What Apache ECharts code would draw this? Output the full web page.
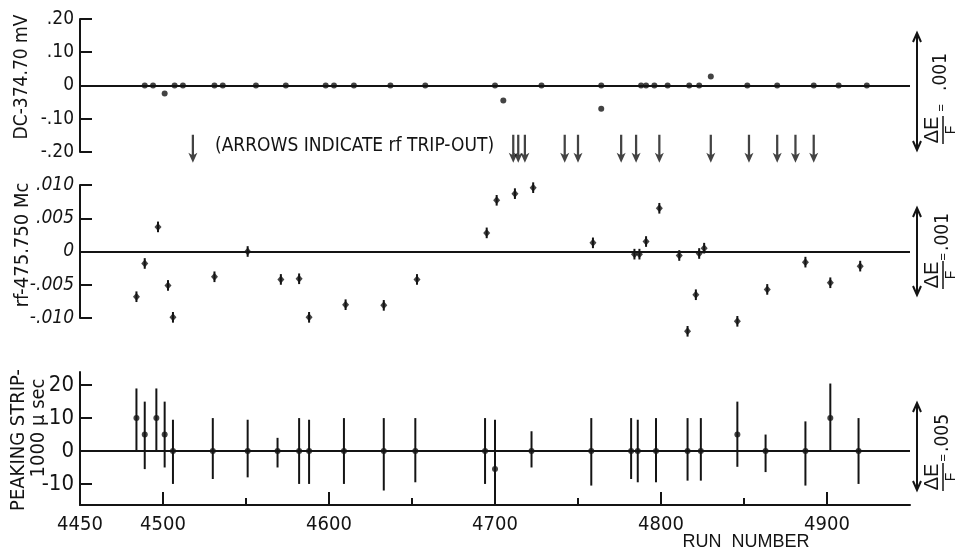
<!DOCTYPE html>
<html>
<head>
<meta charset="utf-8">
<script src="https://cdn.jsdelivr.net/npm/echarts@6/dist/echarts.min.js"></script>
<style>
html,body{margin:0;padding:0;background:#fff;}
#chart{width:964px;height:552px;}
</style>
</head>
<body>
<div id="chart"></div>
<script>
// ---------- DATA ----------
// Top panel: DC - 374.70 mV
const dcRuns = [4489,4494,4501,4507,4512,4531,4536,4556,4574,4598,4603,4615,4637,4658,4700,4705,4728,4764,4764,4788,4791,4796,4804,4817,4823,4830,4852,4870,4892,4907,4924];
const dcVals = [0,0,-0.024,0,0, 0,0,0,0,0, 0,0,0,0,0, -0.045,0,0,-0.07,0, 0,0,0,0,0, 0.027,0,0,0,0, 0];
// rf trip-out arrows (run numbers)
const tripRuns = [4518,4711,4714,4718,4742,4750,4776,4785,4799,4830,4853,4870,4881,4892];
// Middle panel: rf - 475.750 Mc
const rfRuns = [4484,4489,4497,4503,4506,4531,4551,4571,4582,4588,4610,4633,4653,4695,4701,4712,4723,4759,4784,4787,4791,4799,4811,4816,4821,4823,4826,4846,4864,4887,4902,4920];
const rfVals = [-0.0068,-0.0018,0.0037,-0.0051,-0.0099,-0.0038,0.0000,-0.0042,-0.0041,-0.0099,-0.0080,-0.0081,-0.0042,0.0028,0.0077,0.0087,0.0096,0.0013,-0.0004,-0.0004,0.0015,0.0065,-0.0006,-0.0120,-0.0065,-0.0003,0.0005,-0.0105,-0.0057,-0.0016,-0.0047,-0.0022];
const rfErr = 0.0008;
// Bottom panel: peaking strip - 1000 microsec
const psRuns = [4484,4489,4496,4501,4506,4530,4551,4569,4582,4588,4609,4633,4652,4694,4700,4722,4758,4782,4786,4797,4816,4824,4846,4863,4887,4902,4919];
const psVals = [10,5,10,5,0, 0,0,0,0,0, 0,0,0,0,-5.5, 0,0,0,0,0, 0,0,5,0,0, 10,0];
const psLow  = [0,-5.5,0,-5,-10, -8.5,-8,-5,-10,-10, -10,-12,-9.5,-10,-16.4, -5,-10.5,-8.5,-9.5,-9.5, -9,-9,-4.8,-6.4,-10.5, 0,-10];
const psHigh = [19,15,19,15,9.5, 10,9.5,4,10,9.5, 10,10,10,10,9.5, 6,10,10,9.5,10, 10,10,15,5,9, 20.5,10];
// Axis tick labels
const xLabelVals = [4450,4500,4600,4700,4800,4900];
const xMajorTicks = [4500,4600,4700,4800,4900];
const xMinorTicks = [4550,4650,4750,4850];
const psTickVals = [-10,0,10,20];

// ---------- STYLE ----------
const INK = '#141414';
const NARROW = "'Liberation Sans Narrow','DejaVu Sans Condensed','Liberation Sans',sans-serif";
const SANS = "'Liberation Sans','DejaVu Sans',sans-serif";
const X_MIN = 4450, X_MAX = 4950;

function fmtDec(v, d){
  if (Math.abs(v) < 1e-12) return '0';
  const s = Math.abs(v).toFixed(d).replace(/^0/, '');
  return (v < 0 ? '-' : '') + s;
}

const chart = echarts.init(document.getElementById('chart'), null, {renderer:'canvas'});

const grids = [
  {left:80, right:54, top:19, height:133},
  {left:80, right:54, top:185, height:133},
  {left:80, right:54, top:372, height:133}
];

const hiddenX = (gi) => ({
  type:'value', gridIndex:gi, min:X_MIN, max:X_MAX, interval:50,
  show:true, axisLine:{show:false}, axisTick:{show:false}, axisLabel:{show:false}, splitLine:{show:false}
});

const xAxes = [
  hiddenX(0),
  hiddenX(1),
  {
    type:'value', gridIndex:2, min:X_MIN, max:X_MAX, interval:50, position:'bottom',
    axisLine:{show:true, onZero:false, lineStyle:{color:INK, width:2}},
    axisTick:{show:true, inside:true, length:13, customValues:xMajorTicks, lineStyle:{color:INK, width:2}},
    axisLabel:{show:true, customValues:xLabelVals, color:INK, fontFamily:NARROW, fontSize:20, margin:10,
      formatter:(v)=>String(Math.round(v))},
    splitLine:{show:false}
  },
  {
    type:'value', gridIndex:2, min:X_MIN, max:X_MAX, interval:50, position:'bottom',
    axisLine:{show:false, onZero:false},
    axisTick:{show:true, inside:true, length:7, customValues:xMinorTicks, lineStyle:{color:INK, width:2}},
    axisLabel:{show:false}, splitLine:{show:false}
  }
];

const yLabelStyle = {color:INK, fontFamily:NARROW, fontSize:19, margin:6};
const yAxes = [
  {
    type:'value', gridIndex:0, min:-0.2, max:0.2, interval:0.1,
    axisLine:{show:true, lineStyle:{color:INK, width:2}},
    axisTick:{show:true, inside:true, length:12, lineStyle:{color:INK, width:2}},
    axisLabel:Object.assign({formatter:(v)=>fmtDec(v,2)}, yLabelStyle),
    splitLine:{show:false}
  },
  {
    type:'value', gridIndex:1, min:-0.01, max:0.01, interval:0.005,
    axisLine:{show:true, lineStyle:{color:INK, width:2}},
    axisTick:{show:true, inside:true, length:12, lineStyle:{color:INK, width:2}},
    axisLabel:Object.assign({formatter:(v)=>fmtDec(v,3), fontStyle:'italic'}, yLabelStyle),
    splitLine:{show:false}
  },
  {
    type:'value', gridIndex:2, min:-16.4, max:24,
    axisLine:{show:true, lineStyle:{color:INK, width:2}},
    axisTick:{show:true, inside:true, length:12, customValues:psTickVals, lineStyle:{color:INK, width:2}},
    axisLabel:Object.assign({customValues:psTickVals, formatter:(v)=>String(Math.round(v))}, yLabelStyle, {fontSize:22}),
    splitLine:{show:false}
  }
];

const zeroLine = {
  silent:true, symbol:'none', label:{show:false},
  lineStyle:{color:INK, width:2, type:'solid'},
  data:[{yAxis:0}]
};

function errRender(params, api){
  const x = api.value(0), lo = api.value(1), hi = api.value(2);
  const p1 = api.coord([x, lo]), p2 = api.coord([x, hi]);
  return {type:'line', shape:{x1:p1[0], y1:p1[1], x2:p2[0], y2:p2[1]},
    style:{stroke:INK, lineWidth:2}};
}

const arrowPath = 'path://M4,0 L6,0 L6,20 L9,18 L5,28 L1,18 L4,20 Z';

const series = [
  // top panel
  {
    type:'scatter', xAxisIndex:0, yAxisIndex:0, symbol:'circle', symbolSize:6,
    itemStyle:{color:INK}, data:dcRuns.map((r,i)=>[r, dcVals[i]]),
    markLine:zeroLine, z:3
  },
  {
    type:'scatter', xAxisIndex:0, yAxisIndex:0, symbol:arrowPath, symbolSize:[9,28],
    itemStyle:{color:INK}, data:tripRuns.map(r=>[r, -0.19]), silent:true, z:3
  },
  // middle panel
  {
    type:'custom', xAxisIndex:1, yAxisIndex:1, renderItem:errRender, clip:false,
    encode:{x:0, y:[1,2]},
    data:rfRuns.map((r,i)=>[r, rfVals[i]-rfErr, rfVals[i]+rfErr]), z:2
  },
  {
    type:'scatter', xAxisIndex:1, yAxisIndex:1, symbol:'diamond', symbolSize:[7,8], clip:false,
    itemStyle:{color:INK}, data:rfRuns.map((r,i)=>[r, rfVals[i]]),
    markLine:zeroLine, z:3
  },
  // bottom panel
  {
    type:'custom', xAxisIndex:2, yAxisIndex:2, renderItem:errRender, clip:false,
    encode:{x:0, y:[1,2]},
    data:psRuns.map((r,i)=>[r, psLow[i], psHigh[i]]), z:2
  },
  {
    type:'scatter', xAxisIndex:2, yAxisIndex:2, symbol:'circle', symbolSize:6, clip:false,
    itemStyle:{color:INK}, data:psRuns.map((r,i)=>[r, psVals[i]]),
    markLine:zeroLine, z:3
  }
];

// ---------- annotations ----------
function rotText(x, y, text, font, size, extra){
  return Object.assign({
    type:'text', x:x, y:y, rotation:Math.PI/2, silent:true,
    style:{text:text, fill:INK, font: size + 'px ' + font, align:'center', verticalAlign:'middle'}
  }, extra || {});
}

function dblArrow(x, y1, y2){
  return {
    type:'group', silent:true, children:[
      {type:'line', shape:{x1:x, y1:y1, x2:x, y2:y2}, style:{stroke:INK, lineWidth:2}},
      {type:'polyline', shape:{points:[[x-4,y1+9],[x,y1],[x+4,y1+9]]}, style:{stroke:INK, lineWidth:2, fill:null}},
      {type:'polyline', shape:{points:[[x-4,y2-9],[x,y2],[x+4,y2-9]]}, style:{stroke:INK, lineWidth:2, fill:null}}
    ]
  };
}

function ratioLabel(x0, y0, eqPos, valPos, valText, valOff){
  // group rotated 90deg CCW: local +x goes up the screen, local +y goes right
  return {
    type:'group', x:x0, y:y0, rotation:Math.PI/2, silent:true, children:[
      {type:'line', shape:{x1:0, y1:0, x2:28, y2:0}, style:{stroke:INK, lineWidth:1.5}},
      {type:'text', x:14, y:-1, style:{text:'\u0394E', fill:INK, font:'20px ' + SANS, align:'center', verticalAlign:'bottom'}},
      {type:'text', x:14, y:1, style:{text:'F', fill:INK, font:'14px ' + SANS, align:'center', verticalAlign:'top'}},
      {type:'text', x:eqPos, y:valOff, style:{text:'=', fill:INK, font:'13px ' + SANS, align:'center', verticalAlign:'middle'}},
      {type:'text', x:valPos, y:valOff, style:{text:valText, fill:INK, font:'19px ' + NARROW, align:'center', verticalAlign:'middle'}}
    ]
  };
}

const graphics = [
  rotText(22, 77, 'DC-374.70 mV', NARROW, 19),
  rotText(23, 245, 'rf-475.750 Mc', NARROW, 20),
  rotText(19, 440, 'PEAKING STRIP-', NARROW, 20),
  rotText(39, 428, '1000 \u03bc sec', NARROW, 20),
  {type:'text', x:215, y:146, silent:true,
    style:{text:'(ARROWS INDICATE rf TRIP-OUT)', fill:INK, font:'19px ' + NARROW, align:'left', verticalAlign:'middle'}},
  {type:'text', x:746, y:542, silent:true,
    style:{text:'RUN  NUMBER', fill:INK, font:'18px ' + SANS, align:'center', verticalAlign:'middle'}},
  dblArrow(917, 33, 150),
  dblArrow(917, 208, 295),
  dblArrow(917, 403, 490),
  ratioLabel(943, 144, 36, 72, '.001', -2),
  ratioLabel(943, 289, 32, 57, '.001', 0),
  ratioLabel(943, 491, 33, 58, '.005', 0)
];

chart.setOption({
  backgroundColor:'#ffffff',
  animation:false,
  grid:grids,
  xAxis:xAxes,
  yAxis:yAxes,
  series:series,
  graphic:graphics
});
</script>
</body>
</html>
